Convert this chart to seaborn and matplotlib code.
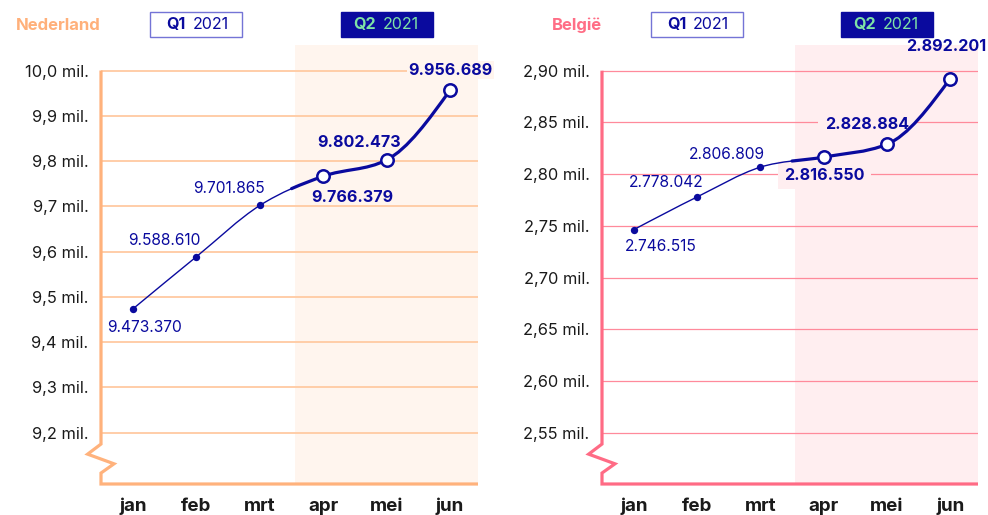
import numpy as np
import pandas as pd
import matplotlib
matplotlib.use("Agg")
import matplotlib.pyplot as plt
import matplotlib.transforms as mtransforms
from matplotlib.path import Path
from matplotlib.patches import PathPatch, Rectangle
from matplotlib.lines import Line2D
import seaborn as sns

# ---------------- data ----------------
months = ["jan", "feb", "mrt", "apr", "mei", "jun"]
quarter = ["Q1", "Q1", "Q1", "Q2", "Q2", "Q2"]
nl_values = [9473370, 9588610, 9701865, 9766379, 9802473, 9956689]
be_values = [2746515, 2778042, 2806809, 2816550, 2828884, 2892201]
nl_ticks = [9.2, 9.3, 9.4, 9.5, 9.6, 9.7, 9.8, 9.9, 10.0]
be_ticks = [2.55, 2.60, 2.65, 2.70, 2.75, 2.80, 2.85, 2.90]
titles = ["Nederland", "België"]

# ---------------- style ----------------
sns.set_theme(style="white")
plt.rcParams["font.family"] = ["Inter", "DejaVu Sans"]

NAVY = "#0A0A9E"
MINT = "#7EE3A6"
Q1_EDGE = "#7474D6"
TXT = "#1a1a1a"

panels = [
    dict(values=nl_values, ticks=nl_ticks, title=titles[0], decimals=1,
         ylim=(9.0862, 10.0564), spine="#FFB27C", grid="#FFCDA8", grid_lw=1.4,
         shade="#FFF5EE", tcolor="#FFB07A", bpad=0.08, boxed=[5],
         offsets=[(11, -19), (-32, 16), (-31, 17), (29, -21), (-28, 17), (0, 20)],
         rect=[101 / 988, 31 / 515, 377 / 988, 439 / 515]),
    dict(values=be_values, ticks=be_ticks, title=titles[1], decimals=2,
         ylim=(2.5007, 2.9248), spine="#FF6B85", grid="#FF8A9B", grid_lw=0.9,
         shade="#FFEEF0", tcolor="#FF6E86", bpad=0.4, boxed=[3, 4],
         offsets=[(27, -17), (-31, 14), (-34, 13), (1, -18), (-20, 20), (-4, 32)],
         rect=[602 / 988, 31 / 515, 376 / 988, 439 / 515]),
]

fig = plt.figure(figsize=(9.88, 5.15), dpi=100)
XMIN, XMAX = -0.505, 5.44


def monotone_tangents(x, y):
    n = len(x)
    t = np.zeros(n)
    for i in range(1, n - 1):
        h0, h1 = x[i] - x[i - 1], x[i + 1] - x[i]
        s0, s1 = (y[i] - y[i - 1]) / h0, (y[i + 1] - y[i]) / h1
        p = (s0 * h1 + s1 * h0) / (h0 + h1)
        t[i] = (np.sign(s0) + np.sign(s1)) * min(abs(s0), abs(s1), 0.5 * abs(p))
    h = x[1] - x[0]
    t[0] = (3 * (y[1] - y[0]) / h - t[1]) / 2
    h = x[-1] - x[-2]
    t[-1] = (3 * (y[-1] - y[-2]) / h - t[-2]) / 2
    return t


def segments(x, y):
    t = monotone_tangents(x, y)
    segs = []
    for i in range(len(x) - 1):
        dx = x[i + 1] - x[i]
        segs.append(np.array([
            [x[i], y[i]],
            [x[i] + dx / 3, y[i] + dx * t[i] / 3],
            [x[i + 1] - dx / 3, y[i + 1] - dx * t[i + 1] / 3],
            [x[i + 1], y[i + 1]],
        ]))
    return segs


def split(seg, s=0.5):
    p0, p1, p2, p3 = seg
    a = p0 + (p1 - p0) * s
    b = p1 + (p2 - p1) * s
    c = p2 + (p3 - p2) * s
    d = a + (b - a) * s
    e = b + (c - b) * s
    f = d + (e - d) * s
    return np.array([p0, a, d, f]), np.array([f, e, c, p3])


def bezier_path(seglist):
    verts, codes = [], []
    for k, sg in enumerate(seglist):
        if k == 0:
            verts.append(sg[0]); codes.append(Path.MOVETO)
        verts += [sg[1], sg[2], sg[3]]
        codes += [Path.CURVE4] * 3
    return Path(np.array(verts), codes)


for pn in panels:
    ax = fig.add_axes(pn["rect"])
    vals = np.array(pn["values"]) / 1e6
    df = pd.DataFrame({"month": months, "x": np.arange(len(months)),
                       "value": vals, "quarter": quarter})
    ax.set_xlim(XMIN, XMAX)
    ax.set_ylim(*pn["ylim"])
    ymin, ymax = pn["ylim"]

    # shading of Q2 (extends slightly above top gridline)
    ax.axvspan(2.55, XMAX, color=pn["shade"], lw=0, zorder=0)

    # gridlines
    for tk in pn["ticks"]:
        ax.axhline(tk, color=pn["grid"], lw=pn["grid_lw"], zorder=1)

    # curve
    x = df["x"].values.astype(float)
    y = df["value"].values
    segs = segments(x, y)
    a, b = split(segs[2], 0.5)
    thin = bezier_path([segs[0], segs[1], a])
    thick = bezier_path([b, segs[3], segs[4]])
    ax.add_patch(PathPatch(thin, fill=False, edgecolor=NAVY, lw=1.0, zorder=3,
                           capstyle="round"))
    ax.add_patch(PathPatch(thick, fill=False, edgecolor=NAVY, lw=2.3, zorder=3,
                           capstyle="round"))

    # markers
    q1 = df[df["quarter"] == "Q1"]
    q2 = df[df["quarter"] == "Q2"]
    sns.scatterplot(data=q1, x="x", y="value", ax=ax, color=NAVY, s=28,
                    linewidth=0, zorder=4, legend=False)
    sns.scatterplot(data=q2, x="x", y="value", ax=ax, color="white", s=80,
                    edgecolor=NAVY, linewidth=1.8, zorder=4, legend=False)

    # data labels (between gridlines and curve in stacking order)
    for i, (xv, yv, raw) in enumerate(zip(x, y, pn["values"])):
        lab = f"{raw:,}".replace(",", ".")
        bold = quarter[i] == "Q2"
        kw = {}
        if i in pn["boxed"]:
            kw["bbox"] = dict(boxstyle=f"square,pad={pn['bpad']}",
                              fc=pn["shade"], ec="none")
        ax.annotate(lab, xy=(xv, yv), xytext=pn["offsets"][i],
                    textcoords="offset pixels", ha="center", va="center",
                    fontsize=11.6 if bold else 11.2, color=NAVY,
                    fontweight="bold" if bold else "normal", zorder=2,
                    annotation_clip=False, **kw)

    # axes ticks
    sns.despine(ax=ax, left=True, bottom=True, top=True, right=True)
    ax.set_yticks(pn["ticks"])
    ax.set_yticklabels([f"{t:.{pn['decimals']}f}".replace(".", ",") + " mil."
                        for t in pn["ticks"]], fontsize=11.8, color=TXT)
    ax.set_xticks(df["x"])
    ax.set_xticklabels(months, fontsize=13.5, fontweight="bold", color=TXT)
    ax.tick_params(axis="y", length=0, pad=9)
    ax.tick_params(axis="x", length=0, pad=10)
    ax.set_xlabel("")
    ax.set_ylabel("")
    ax.grid(False)

    # custom left spine with zigzag break + bottom spine
    ytop = (pn["ticks"][-1] - ymin) / (ymax - ymin)
    sx = [0, 0, -0.0355, 0.0345, 0, 0, 1]
    sy = [ytop, 0.091, 0.068, 0.046, 0.025, 0, 0]
    ax.add_line(Line2D(sx, sy, transform=ax.transAxes, color=pn["spine"],
                       lw=2.3, clip_on=False, zorder=6,
                       solid_joinstyle="miter", solid_capstyle="butt"))

    # title + quarter boxes
    fig.text(pn["rect"][0], 1 - 25 / 515, pn["title"], ha="right", va="center",
             fontsize=12, fontweight="bold", color=pn["tcolor"])
    blend = mtransforms.blended_transform_factory(ax.transData, fig.transFigure)
    yc = 1 - 24.5 / 515
    bh = 25 / 515
    for qx, qlab, filled in [(1, "Q1", False), (4, "Q2", True)]:
        ax.add_patch(Rectangle((qx - 0.725, yc - bh / 2), 1.45, bh,
                               transform=blend, clip_on=False,
                               fc=NAVY if filled else "white",
                               ec=NAVY if filled else Q1_EDGE, lw=1.0, zorder=6))
        tc = MINT if filled else NAVY
        ax.annotate(qlab, xy=(qx, yc), xycoords=blend, xytext=(-11, 0),
                    textcoords="offset pixels", ha="right", va="center",
                    fontsize=11.5, fontweight="bold", color=tc,
                    annotation_clip=False, zorder=7)
        ax.annotate("2021", xy=(qx, yc), xycoords=blend, xytext=(-4, 0),
                    textcoords="offset pixels", ha="left", va="center",
                    fontsize=11.5, color=tc, annotation_clip=False, zorder=7)

fig.savefig("out.png", dpi=100)
